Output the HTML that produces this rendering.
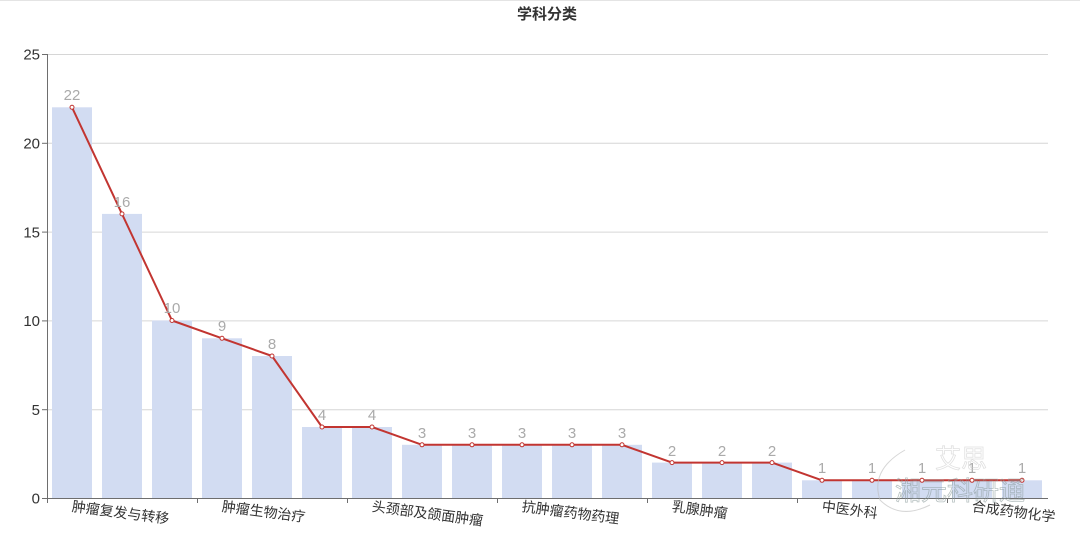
<!DOCTYPE html>
<html><head><meta charset="utf-8">
<style>
html,body{margin:0;padding:0;background:#fff;}
svg{display:block;font-family:"Liberation Sans","Noto Sans CJK SC",sans-serif;}
</style></head>
<body>
<svg width="1080" height="537" viewBox="0 0 1080 537" xmlns="http://www.w3.org/2000/svg">
<rect x="0" y="0" width="1080" height="537" fill="#fff"/>
<line x1="0" y1="0.5" x2="1080" y2="0.5" stroke="#e4e4e4" stroke-width="1"/>
<text x="547" y="19" text-anchor="middle" font-size="15" font-weight="bold" fill="#333">学科分类</text>
<!-- gridlines -->
<g stroke="#d6d6d6" stroke-width="1">
<line x1="47" y1="54.5" x2="1048" y2="54.5"/>
<line x1="47" y1="143.3" x2="1048" y2="143.3"/>
<line x1="47" y1="232.1" x2="1048" y2="232.1"/>
<line x1="47" y1="320.9" x2="1048" y2="320.9"/>
<line x1="47" y1="409.7" x2="1048" y2="409.7"/>
</g>
<!-- y labels -->
<g font-size="15" fill="#333" text-anchor="end">
<text x="40" y="59.5">25</text>
<text x="40" y="148.5">20</text>
<text x="40" y="237.5">15</text>
<text x="40" y="326">10</text>
<text x="40" y="415">5</text>
<text x="40" y="503.5">0</text>
</g>
<!-- bars -->
<g fill="#d2dcf2">
<rect x="52" y="107.3" width="40" height="391.2"/>
<rect x="102" y="213.9" width="40" height="284.6"/>
<rect x="152" y="320.5" width="40" height="178"/>
<rect x="202" y="338.3" width="40" height="160.2"/>
<rect x="252" y="356.0" width="40" height="142.5"/>
<rect x="302" y="427.0" width="40" height="71.5"/>
<rect x="352" y="427.0" width="40" height="71.5"/>
<rect x="402" y="444.8" width="40" height="53.7"/>
<rect x="452" y="444.8" width="40" height="53.7"/>
<rect x="502" y="444.8" width="40" height="53.7"/>
<rect x="552" y="444.8" width="40" height="53.7"/>
<rect x="602" y="444.8" width="40" height="53.7"/>
<rect x="652" y="462.6" width="40" height="35.9"/>
<rect x="702" y="462.6" width="40" height="35.9"/>
<rect x="752" y="462.6" width="40" height="35.9"/>
<rect x="802" y="480.3" width="40" height="18.2"/>
<rect x="852" y="480.3" width="40" height="18.2"/>
<rect x="902" y="480.3" width="40" height="18.2"/>
<rect x="952" y="480.3" width="40" height="18.2"/>
<rect x="1002" y="480.3" width="40" height="18.2"/>
</g>
<!-- axes -->
<line x1="47.5" y1="54" x2="47.5" y2="499" stroke="#6e6e6e" stroke-width="1"/>
<g stroke="#6e6e6e" stroke-width="1">
<line x1="42" y1="54.5" x2="47" y2="54.5"/>
<line x1="42" y1="143.3" x2="47" y2="143.3"/>
<line x1="42" y1="232.1" x2="47" y2="232.1"/>
<line x1="42" y1="320.9" x2="47" y2="320.9"/>
<line x1="42" y1="409.7" x2="47" y2="409.7"/>
<line x1="42" y1="498.5" x2="1048" y2="498.5"/>
<line x1="47.5" y1="498" x2="47.5" y2="503"/>
<line x1="197.5" y1="498" x2="197.5" y2="503"/>
<line x1="347.5" y1="498" x2="347.5" y2="503"/>
<line x1="497.5" y1="498" x2="497.5" y2="503"/>
<line x1="647.5" y1="498" x2="647.5" y2="503"/>
<line x1="797.5" y1="498" x2="797.5" y2="503"/>
<line x1="947.5" y1="498" x2="947.5" y2="503"/>
</g>
<!-- x labels -->
<g font-size="14" fill="#333">
<text x="72" y="511" transform="rotate(7.5 72 506)">肿瘤复发与转移</text>
<text x="222" y="511" transform="rotate(7.5 222 506)">肿瘤生物治疗</text>
<text x="372" y="511" transform="rotate(7.5 372 506)">头颈部及颌面肿瘤</text>
<text x="522" y="511" transform="rotate(7.5 522 506)">抗肿瘤药物药理</text>
<text x="672" y="511" transform="rotate(7.5 672 506)">乳腺肿瘤</text>
<text x="822" y="511" transform="rotate(7.5 822 506)">中医外科</text>
<text x="972" y="511" transform="rotate(7.5 972 506)">合成药物化学</text>
</g>
<!-- line -->
<polyline fill="none" stroke="#c23531" stroke-width="2" stroke-linejoin="round"
points="72,107.3 122,213.9 172,320.5 222,338.3 272,356.0 322,427.0 372,427.0 422,444.8 472,444.8 522,444.8 572,444.8 622,444.8 672,462.6 722,462.6 772,462.6 822,480.3 872,480.3 922,480.3 972,480.3 1022,480.3"/>
<g fill="#fff" stroke="#c23531" stroke-width="1">
<circle cx="72" cy="107.3" r="2"/><circle cx="122" cy="213.9" r="2"/><circle cx="172" cy="320.5" r="2"/><circle cx="222" cy="338.3" r="2"/><circle cx="272" cy="356.0" r="2"/><circle cx="322" cy="427.0" r="2"/><circle cx="372" cy="427.0" r="2"/><circle cx="422" cy="444.8" r="2"/><circle cx="472" cy="444.8" r="2"/><circle cx="522" cy="444.8" r="2"/><circle cx="572" cy="444.8" r="2"/><circle cx="622" cy="444.8" r="2"/><circle cx="672" cy="462.6" r="2"/><circle cx="722" cy="462.6" r="2"/><circle cx="772" cy="462.6" r="2"/><circle cx="822" cy="480.3" r="2"/><circle cx="872" cy="480.3" r="2"/><circle cx="922" cy="480.3" r="2"/><circle cx="972" cy="480.3" r="2"/><circle cx="1022" cy="480.3" r="2"/>
</g>
<!-- value labels -->
<g font-size="15" fill="#aaa" text-anchor="middle">
<text x="72" y="100">22</text>
<text x="122" y="207">16</text>
<text x="172" y="313">10</text>
<text x="222" y="331">9</text>
<text x="272" y="349">8</text>
<text x="322" y="420">4</text>
<text x="372" y="420">4</text>
<text x="422" y="438">3</text>
<text x="472" y="438">3</text>
<text x="522" y="438">3</text>
<text x="572" y="438">3</text>
<text x="622" y="438">3</text>
<text x="672" y="456">2</text>
<text x="722" y="456">2</text>
<text x="772" y="456">2</text>
<text x="822" y="473">1</text>
<text x="872" y="473">1</text>
<text x="922" y="473">1</text>
<text x="972" y="473">1</text>
<text x="1022" y="473">1</text>
</g>
<!-- faint watermark -->
<g opacity="0.6">
<text x="895" y="500" font-size="26" fill="none" stroke="#8a9a9a" stroke-width="0.8">湘元科研通</text>
<text x="935" y="468" font-size="26" fill="none" stroke="#ccc" stroke-width="0.8">艾思</text>
<path d="M905 450 Q870 470 880 500 Q900 520 930 505" fill="none" stroke="#bbb" stroke-width="1"/>
</g>
</svg>
</body></html>
